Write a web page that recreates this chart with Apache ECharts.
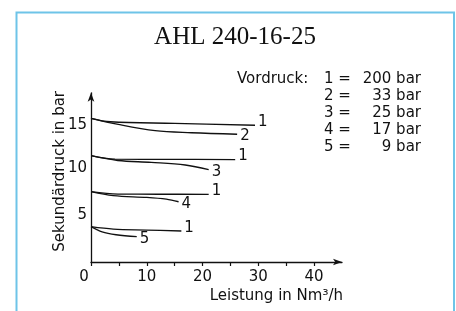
<!DOCTYPE html>
<html>
<head>
<meta charset="utf-8">
<script src="https://cdn.jsdelivr.net/npm/echarts@6/dist/echarts.min.js"></script>
<style>
  html, body { margin: 0; padding: 0; background: #fff; }
  #chart { width: 456px; height: 311px; }
</style>
</head>
<body>
<div id="chart"></div>
<script>
// Werte (x = Leistung Nm3/h, y = Sekundaerdruck bar)
var curve1a = [[0, 15.29], [3.5, 14.92], [15, 14.75], [29.4, 14.55]];
var curve2  = [[0, 15.29], [4.9, 14.63], [11.5, 13.97], [18, 13.75], [26.2, 13.59]];
var curve1b = [[0, 11.31], [4.3, 10.94], [14, 10.92], [25.85, 10.9]];
var curve3  = [[0, 11.31], [4.8, 10.8], [10.8, 10.6], [16.9, 10.32], [21.1, 9.82]];
var curve1c = [[0, 7.48], [4.85, 7.23], [12, 7.21], [21.1, 7.2]];
var curve4  = [[0, 7.48], [4, 7.06], [10, 6.87], [13.5, 6.68], [15.7, 6.41]];
var curve1d = [[0, 3.76], [4, 3.5], [10, 3.4], [16.2, 3.3]];
var curve5  = [[0, 3.76], [2, 3.2], [4.5, 2.9], [8.2, 2.69]];

var curves = [curve1a, curve2, curve1b, curve3, curve1c, curve4, curve1d, curve5];
var curveLabels = ['1', '2', '1', '3', '1', '4', '1', '5'];

var xTicks = [0, 5, 10, 15, 20, 25, 30, 35, 40];
var xLabels = [0, 10, 20, 30, 40];
var yLabels = [5, 10, 15];

var legendKeys = ['1', '2', '3', '4', '5'];
var legendPressures = [200, 33, 25, 17, 9];

var sans = 'DejaVu Sans, Arial, sans-serif';

var legendLines = legendKeys.map(function (k, i) {
    var head = i === 0 ? '{a|Vordruck:}' : '{a| }';
    return head + '{b|' + k + ' =}{c|' + legendPressures[i] + ' bar}';
}).join('\n');

var series = curves.map(function (c, i) {
    var isOne = curveLabels[i] === '1';
    return {
        type: 'line',
        data: c,
        smooth: 0.35,
        showSymbol: false,
        symbol: 'none',
        lineStyle: { color: '#111', width: 1.3 },
        endLabel: {
            show: true,
            formatter: curveLabels[i],
            distance: 3,
            offset: isOne ? [0, -3] : [0, 2],
            color: '#111',
            fontFamily: sans,
            fontSize: 15
        },
        emphasis: { disabled: true },
        animation: false
    };
});

var chart = echarts.init(document.getElementById('chart'));
chart.setOption({
    animation: false,
    title: {
        text: 'AHL 240-16-25',
        left: 235,
        top: 25,
        padding: 0,
        textAlign: 'center',
        textStyle: { fontFamily: 'Liberation Serif, serif', fontWeight: 'normal', fontSize: 25, color: '#111' }
    },
    grid: { left: 91, right: 114, top: 92.8, bottom: 49 },
    xAxis: {
        type: 'value',
        min: 0,
        max: 45,
        interval: 5,
        name: 'Leistung in Nm³/h',
        nameLocation: 'end',
        nameGap: 1,
        nameTextStyle: { align: 'right', verticalAlign: 'top', padding: [27, 0, 0, 0], fontFamily: sans, fontSize: 15, color: '#111' },
        axisLine: { lineStyle: { color: '#111', width: 1.3 }, symbol: ['none', 'arrow'], symbolSize: [5, 9] },
        axisTick: { show: true, length: 4, customValues: xTicks, lineStyle: { color: '#111', width: 1.2 } },
        axisLabel: {
            customValues: xLabels,
            margin: 8,
            fontFamily: sans,
            fontSize: 15,
            color: '#111',
            formatter: function (v) { return v === 0 ? '{o|0}' : String(v); },
            rich: { o: { padding: [0, 14, 0, 0], fontFamily: sans, fontSize: 15, color: '#111' } }
        },
        splitLine: { show: false }
    },
    yAxis: {
        type: 'value',
        min: 0,
        max: 18,
        interval: 1,
        name: 'Sekundärdruck in bar',
        nameLocation: 'middle',
        nameRotate: 90,
        nameGap: 23,
        nameMoveOverlap: false,
        nameTextStyle: { fontFamily: sans, fontSize: 15, color: '#111', padding: [0, 0, 0, 12] },
        axisLine: { show: true, lineStyle: { color: '#111', width: 1.3 }, symbol: ['none', 'arrow'], symbolSize: [5, 9] },
        axisTick: { show: false },
        axisLabel: {
            customValues: yLabels,
            margin: 4,
            fontFamily: sans,
            fontSize: 15,
            color: '#111',
            formatter: function (v) { return v === 15 ? '{d|15}' : String(v); },
            rich: { d: { padding: [8, 0, 0, 0], fontFamily: sans, fontSize: 15, color: '#111' } }
        },
        splitLine: { show: false }
    },
    graphic: [
        {
            type: 'rect',
            shape: { x: 16.5, y: 12.5, width: 437.5, height: 330 },
            style: { fill: 'none', stroke: '#6ec4e8', lineWidth: 2 },
            silent: true
        },
        {
            type: 'text',
            x: 237,
            y: 70.5,
            style: {
                text: legendLines,
                fontFamily: sans,
                fontSize: 15,
                lineHeight: 17,
                fill: '#111',
                rich: {
                    a: { width: 87, align: 'left', fontFamily: sans, fontSize: 15, lineHeight: 17 },
                    b: { width: 34, align: 'left', fontFamily: sans, fontSize: 15, lineHeight: 17 },
                    c: { width: 63, align: 'right', fontFamily: sans, fontSize: 15, lineHeight: 17 }
                }
            },
            silent: true
        }
    ],
    series: series
});
</script>
</body>
</html>
